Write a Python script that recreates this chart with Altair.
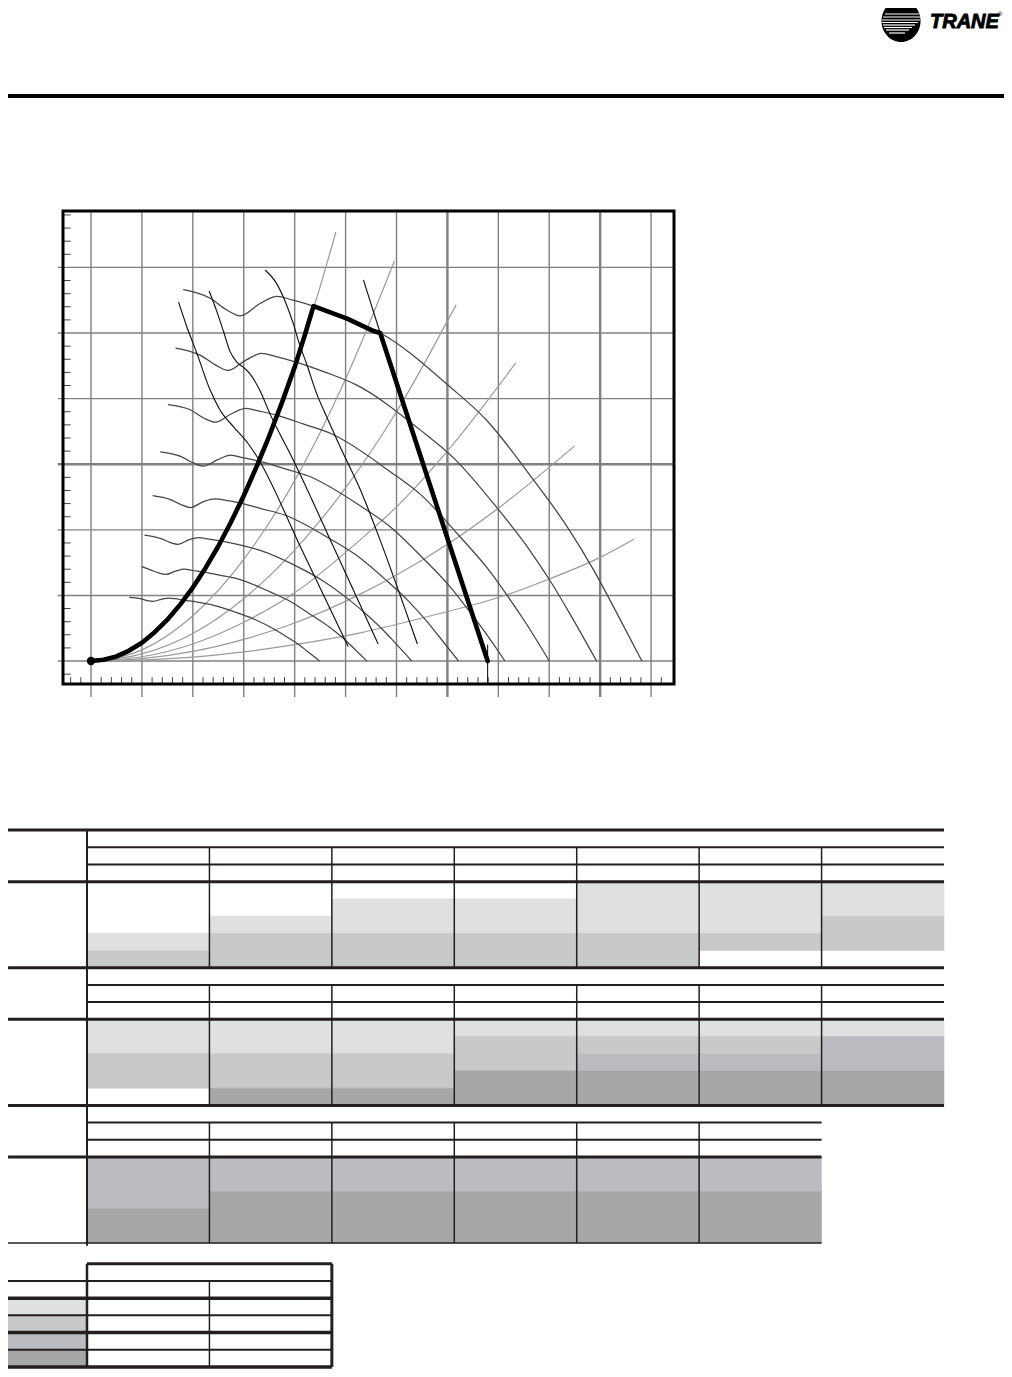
import altair as alt
import pandas as pd

# ---------------- fan performance chart (x: airflow units, y: static pressure units)
grid_x = [0, 1, 2, 3, 4, 5, 6, 7, 8, 9, 10, 11]
grid_y = [0, 1, 2, 3, 4, 5, 6]
heavy_x = [7, 10]
heavy_y = [3]
minor_x = [round(-0.4 + 0.2 * i, 1) for i in range(59)]
minor_y = [round(-0.2 + 0.2 * i, 1) for i in range(36)]

# system curves (light grey)
sys1_x = [0, 0.5, 1.0, 1.5, 2.0, 2.5, 3.0, 3.5, 4.0, 4.4, 4.81]
sys1_y = [0, 0.07, 0.28, 0.63, 1.12, 1.75, 2.52, 3.43, 4.50, 5.45, 6.54]
sys2_x = [0, 1, 2, 3, 4, 5, 5.96]
sys2_y = [0, 0.17, 0.69, 1.55, 2.75, 4.30, 6.10]
sys3_x = [0, 1, 2, 3, 4, 5, 6, 7.17]
sys3_y = [0, 0.11, 0.42, 0.95, 1.69, 2.64, 3.80, 5.43]
sys4_x = [0, 1, 2, 3, 4, 5.29, 6, 7, 8.34]
sys4_y = [0, 0.065, 0.26, 0.59, 1.04, 1.85, 2.35, 3.20, 4.54]
sys5_x = [0, 1, 2, 3, 4, 5.29, 6, 7, 8, 9.5]
sys5_y = [0, 0.036, 0.146, 0.33, 0.58, 1.02, 1.31, 1.78, 2.33, 3.28]
sys6_x = [0, 1, 2, 3, 4, 5.29, 6.6, 8.17, 8.95, 10, 10.67]
sys6_y = [0, 0.016, 0.06, 0.14, 0.25, 0.43, 0.675, 1.01, 1.235, 1.58, 1.86]

# fan speed curves (dark grey)
fan1_x = [1.81, 2.34, 2.67, 2.93, 3.32, 3.65, 3.97, 4.37, 5.02, 5.68, 7.05, 7.77, 8.69, 9.35, 9.87, 10.26, 10.82]
fan1_y = [5.66, 5.53, 5.35, 5.26, 5.45, 5.56, 5.50, 5.41, 5.22, 5.00, 4.18, 3.67, 2.76, 2.05, 1.39, 0.83, 0.0]
fan2_x = [1.66, 2.15, 2.45, 2.69, 3.05, 3.35, 3.64, 4.01, 4.61, 5.21, 6.47, 7.13, 7.98, 8.58, 9.06, 9.42, 9.93]
fan2_y = [4.77, 4.66, 4.51, 4.43, 4.59, 4.69, 4.64, 4.56, 4.40, 4.21, 3.52, 3.09, 2.33, 1.73, 1.17, 0.70, 0.0]
fan3_x = [1.51, 1.95, 2.22, 2.44, 2.76, 3.04, 3.30, 3.64, 4.18, 4.73, 5.87, 6.47, 7.23, 7.78, 8.21, 8.54, 9.00]
fan3_y = [3.91, 3.83, 3.70, 3.64, 3.77, 3.85, 3.81, 3.75, 3.61, 3.46, 2.89, 2.54, 1.91, 1.42, 0.96, 0.58, 0.0]
fan4_x = [1.36, 1.76, 2.01, 2.20, 2.49, 2.74, 2.98, 3.28, 3.77, 4.27, 5.30, 5.84, 6.53, 7.02, 7.41, 7.71, 8.13]
fan4_y = [3.19, 3.12, 3.02, 2.97, 3.07, 3.14, 3.10, 3.05, 2.94, 2.82, 2.36, 2.07, 1.56, 1.16, 0.78, 0.47, 0.0]
fan5_x = [1.21, 1.56, 1.78, 1.95, 2.21, 2.44, 2.65, 2.92, 3.35, 3.79, 4.70, 5.18, 5.80, 6.24, 6.58, 6.84, 7.22]
fan5_y = [2.52, 2.46, 2.38, 2.34, 2.43, 2.47, 2.45, 2.41, 2.32, 2.23, 1.86, 1.63, 1.23, 0.91, 0.62, 0.37, 0.0]
fan6_x = [1.05, 1.36, 1.55, 1.71, 1.93, 2.12, 2.31, 2.54, 2.92, 3.31, 4.10, 4.52, 5.06, 5.44, 5.74, 5.97, 6.30]
fan6_y = [1.92, 1.87, 1.81, 1.78, 1.85, 1.88, 1.86, 1.83, 1.77, 1.69, 1.42, 1.24, 0.94, 0.69, 0.47, 0.28, 0.0]
fan7_x = [1.00, 1.17, 1.34, 1.47, 1.66, 1.83, 1.99, 2.19, 2.52, 2.85, 3.53, 3.89, 4.35, 4.68, 4.95, 5.14, 5.42]
fan7_y = [1.44, 1.39, 1.34, 1.32, 1.37, 1.40, 1.38, 1.36, 1.31, 1.26, 1.05, 0.92, 0.69, 0.52, 0.35, 0.21, 0.0]
fan8_x = [0.75, 0.97, 1.11, 1.22, 1.38, 1.52, 1.65, 1.81, 2.08, 2.36, 2.93, 3.23, 3.61, 3.88, 4.10, 4.26, 4.49]
fan8_y = [0.97, 0.95, 0.92, 0.91, 0.94, 0.96, 0.95, 0.93, 0.90, 0.86, 0.72, 0.63, 0.48, 0.35, 0.24, 0.14, 0.0]

# power lines (black, thin)
bhp1_x = [1.72, 1.88, 2.08, 2.34, 2.53, 2.80, 3.08, 3.24, 4.15, 5.05]
bhp1_y = [5.47, 5.10, 4.69, 4.13, 3.83, 3.57, 3.32, 3.14, 1.68, 0.22]
bhp2_x = [2.32, 2.47, 2.60, 2.73, 2.86, 2.99, 3.12, 3.32, 3.52, 3.71, 3.91, 4.78, 5.64]
bhp2_y = [5.64, 5.33, 5.03, 4.72, 4.56, 4.48, 4.38, 4.12, 3.76, 3.46, 3.16, 1.71, 0.26]
bhp3_x = [3.42, 3.64, 3.83, 3.97, 4.09, 4.23, 4.43, 4.63, 4.89, 5.29, 5.68, 6.05, 6.41]
bhp3_y = [5.96, 5.76, 5.45, 5.15, 4.84, 4.54, 4.08, 3.72, 3.27, 2.61, 1.84, 1.05, 0.26]
bhp4_x = [5.35, 5.68]
bhp4_y = [5.81, 5.00]

# operating envelope (thick black)
env_x = [0, 0.25, 0.5, 0.75, 1.0, 1.25, 1.5, 1.75, 2.0, 2.25, 2.5, 2.75, 3.0, 3.25, 3.5,
         3.75, 4.0, 4.2, 4.37, 5.03, 5.55, 5.68, 7.79]
env_y = [0, 0.02, 0.07, 0.16, 0.28, 0.44, 0.63, 0.86, 1.12, 1.42, 1.75, 2.12, 2.52, 2.96, 3.43,
         3.94, 4.48, 4.97, 5.41, 5.22, 5.03, 5.00, 0]
env_end_x = 7.79

# ---------------- selection tables (shade code per column, 5 sub-rows each)
block1_shades = [
    [0, 0, 0, 1, 2],
    [0, 0, 1, 2, 2],
    [0, 1, 1, 2, 2],
    [0, 1, 1, 2, 2],
    [1, 1, 1, 2, 2],
    [1, 1, 1, 2, 0],
    [1, 1, 2, 2, 0],
]
block2_shades = [
    [1, 1, 2, 2, 0],
    [1, 1, 2, 2, 4],
    [1, 1, 2, 2, 4],
    [1, 2, 2, 4, 4],
    [1, 2, 3, 4, 4],
    [1, 2, 3, 4, 4],
    [1, 3, 3, 4, 4],
]
block3_shades = [
    [3, 3, 3, 4, 4],
    [3, 3, 4, 4, 4],
    [3, 3, 4, 4, 4],
    [3, 3, 4, 4, 4],
    [3, 3, 4, 4, 4],
    [3, 3, 4, 4, 4],
]
legend_codes = [1, 2, 3, 4]
shade_colors = {1: "#dfe0e2", 2: "#c8c9cb", 3: "#bbbcc0", 4: "#a6a7a9"}

LINE = "#231f20"

# ---------------- scales
FX = alt.Scale(domain=[-0.55, 11.45], range=[55, 666], nice=False, zero=False)
FY = alt.Scale(domain=[-0.35, 6.86], range=[676, 203], nice=False, zero=False)
TX = alt.Scale(domain=[-1, 0, 7], range=[0, 79, 936], nice=False, zero=False)
TY = alt.Scale(domain=[0, 31.2], range=[822, 1359], nice=False, zero=False)
HX = alt.Scale(domain=[0, 996], range=[0, 996], nice=False, zero=False)
HY = alt.Scale(domain=[0, 100], range=[0, 100], nice=False, zero=False)


def X(f, s):
    return alt.X(f, type="quantitative", scale=s, axis=None)


def Y(f, s):
    return alt.Y(f, type="quantitative", scale=s, axis=None)


layers = []

# grid
vg = pd.DataFrame({"x": grid_x, "y1": -0.55, "y2": 6.86,
                   "w": [2.4 if g in heavy_x else 1.4 for g in grid_x]})
layers.append(alt.Chart(vg).mark_rule(color="#808080").encode(
    x=X("x", FX), y=Y("y1", FY), y2="y2", strokeWidth=alt.StrokeWidth("w:Q", scale=None)))
hg = pd.DataFrame({"y": grid_y, "x1": -0.654, "x2": 11.45,
                   "w": [2.4 if g in heavy_y else 1.4 for g in grid_y]})
layers.append(alt.Chart(hg).mark_rule(color="#808080").encode(
    y=Y("y", FY), x=X("x1", FX), x2="x2", strokeWidth=alt.StrokeWidth("w:Q", scale=None)))

# minor ticks
mx = pd.DataFrame({"x": [v for v in minor_x if abs(v - round(v)) > 1e-6], "y1": -0.35, "y2": -0.245})
layers.append(alt.Chart(mx).mark_rule(color="#444444", strokeWidth=1).encode(
    x=X("x", FX), y=Y("y1", FY), y2="y2"))
my = pd.DataFrame({"y": [v for v in minor_y if abs(v - round(v)) > 1e-6], "x1": -0.55, "x2": -0.40})
layers.append(alt.Chart(my).mark_rule(color="#444444", strokeWidth=1).encode(
    y=Y("y", FY), x=X("x1", FX), x2="x2"))


def curves_df(pairs):
    rows = []
    for i, (xs, ys) in enumerate(pairs):
        for a, b in zip(xs, ys):
            rows.append({"c": i, "x": a, "y": b})
    return pd.DataFrame(rows)


sys_df = curves_df([(sys1_x, sys1_y), (sys2_x, sys2_y), (sys3_x, sys3_y),
                    (sys4_x, sys4_y), (sys5_x, sys5_y), (sys6_x, sys6_y)])
layers.append(alt.Chart(sys_df).mark_line(interpolate="monotone", color="#9a9a9a", strokeWidth=1.2).encode(
    x=X("x", FX), y=Y("y", FY), detail="c:N"))

fan_df = curves_df([(fan1_x, fan1_y), (fan2_x, fan2_y), (fan3_x, fan3_y), (fan4_x, fan4_y),
                    (fan5_x, fan5_y), (fan6_x, fan6_y), (fan7_x, fan7_y), (fan8_x, fan8_y)])
layers.append(alt.Chart(fan_df).mark_line(interpolate="monotone", color="#454545", strokeWidth=1.25).encode(
    x=X("x", FX), y=Y("y", FY), detail="c:N"))

bhp_df = curves_df([(bhp1_x, bhp1_y), (bhp2_x, bhp2_y), (bhp3_x, bhp3_y), (bhp4_x, bhp4_y)])
layers.append(alt.Chart(bhp_df).mark_line(interpolate="monotone", color="#111111", strokeWidth=1.15).encode(
    x=X("x", FX), y=Y("y", FY), detail="c:N"))

# envelope
env_df = pd.DataFrame({"x": env_x, "y": env_y})
layers.append(alt.Chart(env_df).mark_line(color="black", strokeWidth=4.6, strokeJoin="round",
                                          strokeCap="round").encode(x=X("x", FX), y=Y("y", FY)))
layers.append(alt.Chart(pd.DataFrame({"x": [env_end_x], "y1": [-0.35], "y2": [0.25]})).mark_rule(
    color="black", strokeWidth=1).encode(x=X("x", FX), y=Y("y1", FY), y2="y2"))
layers.append(alt.Chart(pd.DataFrame({"x": [env_x[0]], "y": [env_y[0]]})).mark_point(
    filled=True, color="black", size=70, opacity=1).encode(x=X("x", FX), y=Y("y", FY)))

# frame
layers.append(alt.Chart(pd.DataFrame({"x1": [-0.55], "x2": [11.45], "y1": [-0.35], "y2": [6.86]})).mark_rect(
    fillOpacity=0, stroke="black", strokeWidth=3).encode(x=X("x1", FX), x2="x2", y=Y("y1", FY), y2="y2"))

# ---------------- tables (runs of equal shade merged into one cell)
cells = []
for b, block in enumerate([block1_shades, block2_shades, block3_shades]):
    for c, col in enumerate(block):
        k = 0
        while k < len(col):
            code = col[k]
            j = k
            while j + 1 < len(col) and col[j + 1] == code:
                j += 1
            if code:
                cells.append({"x1": c, "x2": c + 1, "y1": 8 * b + 3 + k, "y2": 8 * b + 4 + j,
                              "col": shade_colors[code]})
            k = j + 1
L0 = 25.2
for i, code in enumerate(legend_codes):
    cells.append({"x1": -1, "x2": 0, "y1": L0 + 2 + i, "y2": L0 + 3 + i, "col": shade_colors[code]})
cells_df = pd.DataFrame(cells)
layers.append(alt.Chart(cells_df).mark_rect(strokeWidth=0.6).encode(
    x=X("x1", TX), x2="x2", y=Y("y1", TY), y2="y2",
    color=alt.Color("col:N", scale=None), stroke=alt.Stroke("col:N", scale=None)))

ncols = [7, 7, 6]
seg = []
for b in range(3):
    base = 8 * b
    seg.append((-1, 7, base, base, 3.0))
    seg.append((0, ncols[b], base + 1, base + 1, 2.0))
    seg.append((0, ncols[b], base + 2, base + 2, 2.0))
    seg.append((-1, ncols[b], base + 3, base + 3, 3.0))
    for c in range(1, ncols[b]):
        seg.append((c, c, base + 1, base + 8, 1.5))
seg.append((-1, 6, 24, 24, 1.5))
seg.append((0, 0, 0, 24.15, 2.0))
# legend table
seg.append((0, 2, L0, L0, 3.0))
for i, w in zip(range(1, 7), [2.0, 3.5, 2.0, 3.5, 2.0, 3.5]):
    seg.append((-1, 2, L0 + i, L0 + i, w))
seg.append((0, 0, L0, L0 + 6, 2.5))
seg.append((2, 2, L0, L0 + 6, 3.0))
seg.append((1, 1, L0 + 1, L0 + 6, 1.5))
seg_df = pd.DataFrame(seg, columns=["x1", "x2", "y1", "y2", "w"])
layers.append(alt.Chart(seg_df).mark_rule(color=LINE).encode(
    x=X("x1", TX), x2="x2", y=Y("y1", TY), y2="y2", strokeWidth=alt.StrokeWidth("w:Q", scale=None)))

# ---------------- page header (rule + logo)
one = pd.DataFrame({"a": [0]})
layers.append(alt.Chart(one).mark_rule(color="black", strokeWidth=4).encode(
    x=alt.value(0), x2=alt.value(996), y=alt.value(88)))
ELLIPSE = "M0,-1 A0.93,1 0 1,1 0,1 A0.93,1 0 1,1 0,-1 Z"
layers.append(alt.Chart(one).mark_point(shape=ELLIPSE, size=1764, filled=True, color="black",
                                        opacity=1, strokeWidth=0).encode(
    x=alt.value(893), y=alt.value(13)))
stripe_y = [6, 9, 12, 14.5, 17, 19.5, 22, 25]
stripe_x1 = [877, 875, 874, 874, 875, 876, 878, 881]
stripe_x2 = [911, 912, 912, 910, 907, 904, 901, 897]
stripes = pd.DataFrame({"y": stripe_y, "x1": stripe_x1, "x2": stripe_x2})
layers.append(alt.Chart(stripes).mark_rule(color="white", strokeWidth=1.2).encode(
    x=X("x1", HX), x2="x2", y=Y("y", HY)))
layers.append(alt.Chart(one).mark_text(text="TRANE", font="Liberation Sans", fontWeight="bold",
                                       fontStyle="italic", fontSize=20, align="left",
                                       baseline="alphabetic", color="black", stroke="black",
                                       strokeWidth=0.9).encode(
    x=alt.value(922), y=alt.value(20)))
layers.append(alt.Chart(one).mark_text(text="®", font="Liberation Sans", fontSize=6, align="left",
                                       baseline="alphabetic", color="black").encode(
    x=alt.value(990), y=alt.value(8)))

chart = alt.layer(*layers).resolve_scale(x="independent", y="independent").properties(
    width=996, height=1361, padding=0, autosize=alt.AutoSizeParams(type="none")
).configure_view(strokeWidth=0)

chart.save("out.html", embed_options={"renderer": "svg", "actions": False})
